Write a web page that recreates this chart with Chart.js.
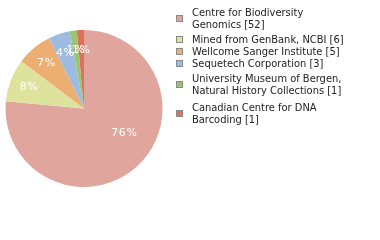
<!DOCTYPE html>
<html>
<head>
<meta charset="utf-8">
<script src="https://cdn.jsdelivr.net/npm/chart.js@4.4.1/dist/chart.umd.min.js"></script>
<style>
  html, body { margin: 0; padding: 0; background: #fff; }
  #wrap { width: 380px; height: 240px; }
</style>
</head>
<body>
<div id="wrap"><canvas id="myChart" width="380" height="240"></canvas></div>
<script>
// values
var categories = ["Centre for Biodiversity Genomics", "Mined from GenBank, NCBI", "Wellcome Sanger Institute",
    "Sequetech Corporation", "University Museum of Bergen, Natural History Collections", "Canadian Centre for DNA Barcoding"];
var counts = [52, 6, 5, 3, 1, 1];
var colors = ["#e0a69e", "#dde39c", "#edae72", "#9dbbe0", "#9ac56f", "#df705a"];

function wrapText(ctx, text, maxW) { // splits a label into lines that fit
    var words = text.split(' ');
    var lines = [];
    var cur = '';
    for (var i = 0; i < words.length; i++) {
        var test = cur ? cur + ' ' + words[i] : words[i];
        if (ctx.measureText(test).width > maxW && cur) {
            lines.push(cur);
            cur = words[i];
        } else {
            cur = test;
        }
    }
    lines.push(cur);
    return lines;
}

var pieLabels = {
    id: 'pieLabels',
    afterDatasetsDraw(chart) {
        var ctx = chart.ctx;
        var total = counts.reduce(function (a, b) { return a + b; }, 0);
        var arcs = chart.getDatasetMeta(0).data;
        ctx.save();
        ctx.font = '11px "DejaVu Sans"';
        ctx.letterSpacing = '0.6px';
        ctx.fillStyle = '#fff';
        ctx.textAlign = 'center';
        ctx.textBaseline = 'middle';
        arcs.forEach(function (arc, i) {
            var p = arc.getProps(['x', 'y', 'startAngle', 'endAngle', 'outerRadius'], true);
            var frac = counts[i] / total;
            var a, r;
            if (frac > 0.5) {
                a = p.startAngle + (p.endAngle - p.startAngle) * 0.44;
                r = p.outerRadius * 0.6;
            } else {
                a = (p.startAngle + p.endAngle) / 2;
                r = p.outerRadius * 0.75;
            }
            ctx.fillText(Math.floor(frac * 100) + '%', p.x + Math.cos(a) * r, p.y + Math.sin(a) * r);
        });
        ctx.restore();
    }
};

var sideLegend = {
    id: 'sideLegend',
    afterDraw(chart) {
        var ctx = chart.ctx;
        ctx.save();
        ctx.font = '11px "DejaVu Sans Condensed", "DejaVu Sans"';
        ctx.textBaseline = 'alphabetic';
        var y = 11;
        for (var i = 0; i < categories.length; i++) {
            var lines = wrapText(ctx, categories[i] + ' [' + counts[i] + ']', 160);
            var multi = lines.length > 1;
            var pad = multi ? 2.5 : 0;
            var h = multi ? lines.length * 12 + 5 : 12.4;
            var base = y + pad + 2.5;
            // colour box centred on the text block
            var mid = base - 4 + (lines.length - 1) * 6;
            ctx.fillStyle = colors[i];
            ctx.fillRect(176.5, Math.round(mid - 3) + 0.5, 6, 6);
            ctx.strokeStyle = '#8a8a8a';
            ctx.lineWidth = 1;
            ctx.strokeRect(176.5, Math.round(mid - 3) + 0.5, 6, 6);
            ctx.fillStyle = '#222';
            lines.forEach(function (ln, k) {
                ctx.fillText(ln, 192, base + k * 12);
            });
            y += h;
        }
        ctx.restore();
    }
};

new Chart(document.getElementById('myChart'), {
    type: 'pie',
    data: {
        labels: categories,
        datasets: [{
            data: counts,
            backgroundColor: colors,
            borderWidth: 0
        }]
    },
    options: {
        responsive: false,
        animation: false,
        layout: { padding: { left: 5, top: 30, right: 217, bottom: 53 } },
        plugins: {
            legend: { display: false },
            tooltip: { enabled: false }
        }
    },
    plugins: [pieLabels, sideLegend]
});
</script>
</body>
</html>
